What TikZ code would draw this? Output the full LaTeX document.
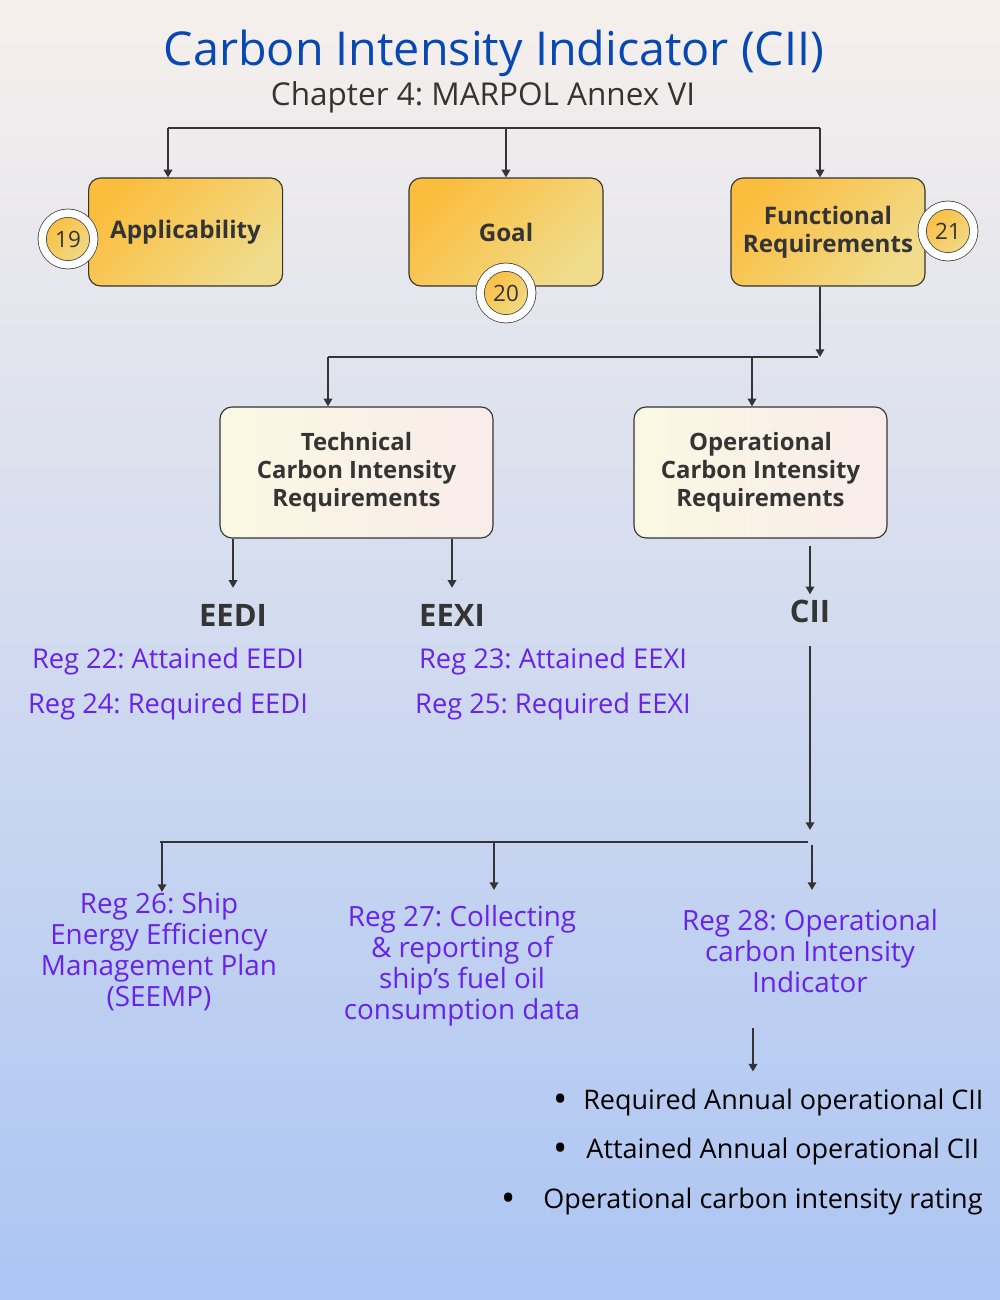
\documentclass[tikz,border=0pt]{standalone}
\usepackage{fontspec}
\setmainfont{Open Sans}
\usetikzlibrary{arrows.meta,positioning,calc}
\definecolor{ciiBlue}{RGB}{8,72,178}
\definecolor{regPurple}{RGB}{104,34,236}
\definecolor{inkGray}{RGB}{52,52,52}
\definecolor{ambTop}{RGB}{251,189,62}
\definecolor{ambBot}{RGB}{240,220,140}
\definecolor{bgTop}{RGB}{246,240,236}
\definecolor{bgBot}{RGB}{172,197,243}
\definecolor{pastelA}{RGB}{250,248,226}
\definecolor{pastelB}{RGB}{230,238,243}
\definecolor{pastelC}{RGB}{249,236,234}
\frenchspacing

\begin{document}
\begin{tikzpicture}[
  regbox/.style={draw=inkGray, thick, rounded corners=0.3cm, top color=ambTop, bottom color=ambBot, shading angle=45, minimum width=4.85cm, minimum height=2.7cm, align=center, text=inkGray, font=\fontsize{17.2}{20}\selectfont\bfseries},
  reqbox/.style={draw=inkGray, thick, rounded corners=0.3cm, left color=pastelA, middle color=pastelB, right color=pastelC, minimum height=3.275cm, align=center, text=inkGray, font=\fontsize{17}{20}\selectfont\bfseries},
  badge/.style={circle, draw=inkGray, line width=0.5pt, double=white, double distance=0.19cm, top color=ambTop, bottom color=ambBot, shading angle=45, minimum size=1.29cm, inner sep=0pt, text=inkGray, font=\fontsize{16}{16}\selectfont},
  idx/.style={anchor=base, inner sep=0pt, text=inkGray, font=\fontsize{22}{24}\selectfont\bfseries},
  reg/.style={anchor=base, inner sep=0pt, text=regPurple, font=\fontsize{19.4}{22}\selectfont},
  regblk/.style={anchor=north, inner sep=0pt, text=regPurple, align=center, font=\fontsize{19.8}{22}\selectfont},
  bul/.style={anchor=base west, inner sep=0pt, text=black, font=\fontsize{19.2}{22}\selectfont},
  arr/.style={-{Triangle[length=5.5pt,width=6pt]}, line width=1.4pt, inkGray},
  bar/.style={line width=1.5pt, inkGray}
]
  % background
  \shade[top color=bgTop, bottom color=bgBot] (0,0) rectangle (25,32.5);

  % heading
  \node[anchor=base, text=ciiBlue, font=\fontsize{33.2}{36}\selectfont] (title) at (12.35,30.86) {Carbon Intensity Indicator (CII)};
  \node[anchor=base, text=inkGray, font=\fontsize{22.4}{24}\selectfont] (sub) at (12.075,29.86) {Chapter 4: MARPOL Annex VI};

  % regulation boxes
  \node[regbox] (app)  at (4.64,26.7)  {Applicability};
  \node[regbox] (goal) at (12.65,26.7) {Goal};
  \node[regbox] (func) at (20.7,26.7)  {Functional\\Requirements};
  \node[badge] (n19) at (1.7,26.525)  {19};
  \node[badge] (n20) at (12.65,25.175) {20};
  \node[badge] (n21) at (23.7,26.725) {21};

  \coordinate (topL) at (4.2,29.3);
  \coordinate (topR) at (20.5,29.3);
  \draw[bar] (topL) -- (topR);
  \draw[arr] (topL) -- (topL |- app.north);
  \draw[arr] (goal.north |- topL) -- (goal.north);
  \draw[arr] (topR) -- (topR |- func.north);

  % requirement boxes
  \node[reqbox, minimum width=6.825cm] (tech) at (8.9125,20.6875) {Technical\\Carbon Intensity\\Requirements};
  \node[reqbox, minimum width=6.325cm] (op)   at (19.0125,20.6875) {Operational\\Carbon Intensity\\Requirements};

  \coordinate (midL) at (8.2,23.575);
  \coordinate (midR) at (20.45,23.575);
  \coordinate (opIn) at (18.8,23.575);
  \draw[arr] (func.south -| topR) -- (topR |- midR);
  \draw[bar] (midL) -- (midR);
  \draw[arr] (midL) -- (midL |- tech.north);
  \draw[arr] (opIn) -- (opIn |- op.north);

  % indices
  \node[idx] (eedi) at (5.825,16.825) {EEDI};
  \node[idx] (eexi) at (11.3,16.825)  {EEXI};
  \node[idx] (cii)  at (20.25,16.925) {CII};
  \draw[arr, shorten >=0.42cm] (tech.south -| eedi) -- (eedi.north);
  \draw[arr, shorten >=0.42cm] (tech.south -| eexi) -- (eexi.north);
  \draw[arr, shorten <=0.175cm, shorten >=0.15cm] (op.south -| cii) -- (cii.north);

  \node[reg] (r22) at (4.2,15.775)   {Reg 22: Attained EEDI};
  \node[reg] (r24) at (4.2,14.65)    {Reg 24: Required EEDI};
  \node[reg] (r23) at (13.825,15.775) {Reg 23: Attained EEXI};
  \node[reg] (r25) at (13.825,14.65)  {Reg 25: Required EEXI};

  % operational regulations
  \node[regblk] (r26) at (3.975,10.2)  {Reg 26: Ship\\Energy Efficiency\\Management Plan\\(SEEMP)};
  \node[regblk] (r27) at (11.55,9.875) {Reg 27: Collecting\\\& reporting of\\ship’s fuel oil\\consumption data};
  \node[regblk] (r28) at (20.25,9.775) {Reg 28: Operational\\carbon Intensity\\Indicator};

  \coordinate (ciiEnd) at (20.275,11.75);
  \coordinate (lowL) at (4.0,11.45);
  \coordinate (lowR) at (20.2,11.45);
  \coordinate (d26) at (4.05,11.45);
  \coordinate (d27) at (12.35,11.45);
  \coordinate (d28) at (20.3,11.375);
  \draw[arr, shorten <=0.55cm] (cii.south) -- (cii.south |- ciiEnd);
  \draw[bar] (lowL) -- (lowR);
  \draw[arr] (d26) -- (d26 |- r26.north);
  \draw[arr, shorten >=0.375cm] (d27) -- (d27 |- r27.north);
  \draw[arr, shorten >=0.475cm] (d28) -- (d28 |- r28.north);

  % CII outputs
  \node[bul] (b1) at (13.825,4.75)  {\makebox[0.75cm][l]{\fontsize{27}{22}\selectfont\raisebox{-1.5pt}{•}}Required Annual operational CII};
  \node[bul] (b2) at (13.825,3.525) {\makebox[0.83cm][l]{\fontsize{27}{22}\selectfont\raisebox{-1.5pt}{•}}Attained Annual operational CII};
  \node[bul] (b3) at (12.525,2.275) {\makebox[1.05cm][l]{\fontsize{27}{22}\selectfont\raisebox{-1.5pt}{•}}Operational carbon intensity rating};
  \coordinate (kx) at (18.825,6.875);
  \draw[arr, shorten <=0.875cm, shorten >=0.44cm] (r28.south -| kx) -- (kx |- b1.north);
\end{tikzpicture}
\end{document}
